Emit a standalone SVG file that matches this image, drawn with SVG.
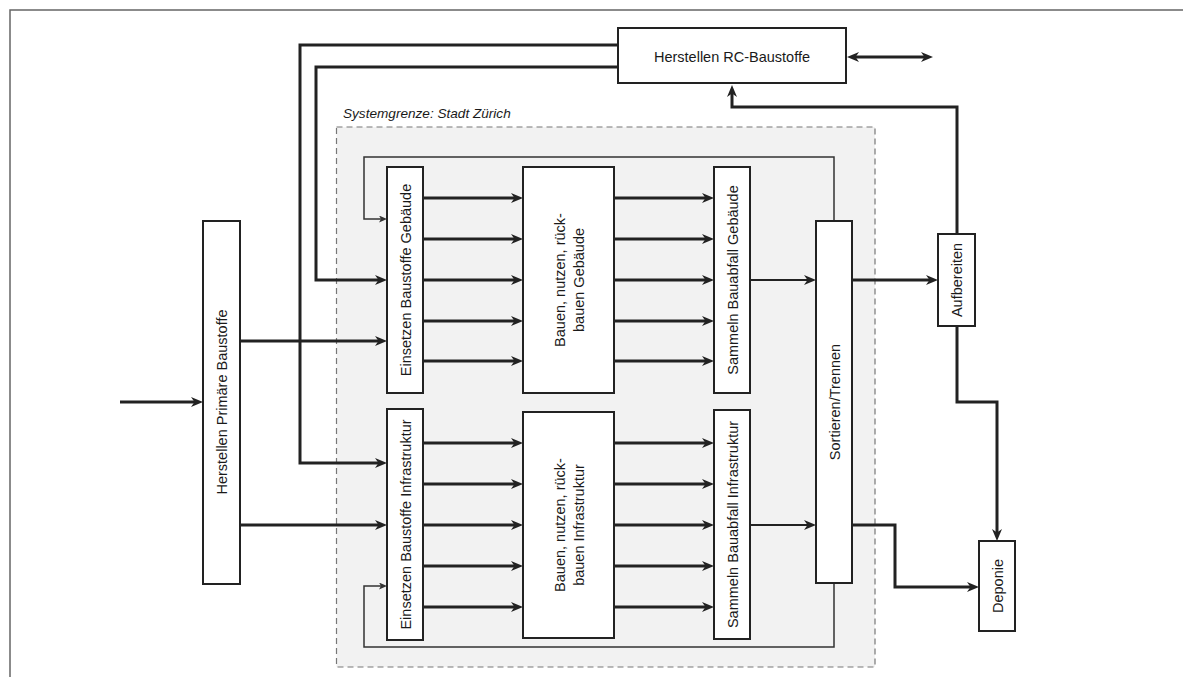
<svg xmlns="http://www.w3.org/2000/svg" width="1183" height="677" viewBox="0 0 1183 677">
<style>
.box{fill:#fff;stroke:#222;stroke-width:2}
.t{font-family:"Liberation Sans",Arial,sans-serif;font-size:14.5px;fill:#1a1a1a;text-anchor:middle}
.thick{fill:none;stroke:#222;stroke-width:3;marker-end:url(#ah)}
.mid{fill:none;stroke:#222;stroke-width:2;marker-end:url(#ah)}
.thin{fill:none;stroke:#333;stroke-width:1.5;marker-end:url(#ahs)}
</style>
<defs>
<marker id="ah" markerUnits="userSpaceOnUse" markerWidth="13" markerHeight="10" refX="4" refY="5" orient="auto-start-reverse">
<path d="M0,0 L12,5 L0,10 L3.5,5 z" fill="#222"/>
</marker>
<marker id="ahs" markerUnits="userSpaceOnUse" markerWidth="9" markerHeight="7" refX="3" refY="3.5" orient="auto">
<path d="M0,0 L8,3.5 L0,7 L2,3.5 z" fill="#333"/>
</marker>
</defs>
<rect width="1183" height="677" fill="#fff"/>
<path d="M10,677 V10 H1183" fill="none" stroke="#666" stroke-width="1.5"/>
<g id="systemgrenze">
<rect x="336.5" y="127" width="538.5" height="540" fill="#f2f2f2" stroke="#777" stroke-width="1.2" stroke-dasharray="6,4"/>
<text x="343" y="118" font-family="Liberation Sans,Arial,sans-serif" font-size="13.6" font-style="italic" fill="#1a1a1a">Systemgrenze: Stadt Zürich</text>
</g>
<g id="connectors">
<path class="thick" d="M618,45 H300 V463 H379"/>
<path class="thick" d="M618,67 H316 V280 H379"/>
<path class="thick" d="M240,341 H379"/>
<path class="thick" d="M240,525 H379"/>
<path class="thick" d="M120,402 H195"/>
<path class="thick" d="M423,198 H515"/>
<path class="thick" d="M423,239 H515"/>
<path class="thick" d="M423,280 H515"/>
<path class="thick" d="M423,321 H515"/>
<path class="thick" d="M423,361 H515"/>
<path class="thick" d="M614,198 H706"/>
<path class="thick" d="M614,239 H706"/>
<path class="thick" d="M614,280 H706"/>
<path class="thick" d="M614,321 H706"/>
<path class="thick" d="M614,361 H706"/>
<path class="thick" d="M423,443 H515"/>
<path class="thick" d="M423,484 H515"/>
<path class="thick" d="M423,525 H515"/>
<path class="thick" d="M423,566 H515"/>
<path class="thick" d="M423,607 H515"/>
<path class="thick" d="M614,443 H706"/>
<path class="thick" d="M614,484 H706"/>
<path class="thick" d="M614,525 H706"/>
<path class="thick" d="M614,566 H706"/>
<path class="thick" d="M614,607 H706"/>
<path class="mid" d="M750,280 H808"/>
<path class="mid" d="M750,525 H808"/>
<path class="thick" d="M852,280 H930"/>
<path class="thick" d="M852,525 H895 V587 H971"/>
<path class="thick" d="M957,326 V402 H997 V533"/>
<path class="thick" d="M957,234 V107 H732 V93"/>
<path class="thick" d="M855,57 H925" style="marker-start:url(#ah)"/>
<path class="thin" d="M834,221 V157 H364 V219 H382"/>
<path class="thin" d="M834,583 V647 H364 V586 H382"/>
</g>
<g id="rc">
<rect class="box" x="618" y="28" width="228" height="55"/>
<text class="t" x="732" y="62">Herstellen RC-Baustoffe</text>
</g>
<g id="primaer">
<rect class="box" x="203" y="221" width="37" height="363"/>
<text class="t" transform="translate(227,402) rotate(-90)">Herstellen Primäre Baustoffe</text>
</g>
<g id="einsetzen-gebaeude">
<rect class="box" x="387" y="167" width="36" height="226"/>
<text class="t" transform="translate(410.5,280) rotate(-90)">Einsetzen Baustoffe Gebäude</text>
</g>
<g id="bauen-gebaeude">
<rect class="box" x="523" y="167" width="91" height="226"/>
<text class="t" transform="translate(565,280) rotate(-90)">Bauen, nutzen, rück-</text>
<text class="t" transform="translate(584,280) rotate(-90)">bauen Gebäude</text>
</g>
<g id="sammeln-gebaeude">
<rect class="box" x="714" y="167" width="36" height="226"/>
<text class="t" transform="translate(737.5,280) rotate(-90)">Sammeln Bauabfall Gebäude</text>
</g>
<g id="einsetzen-infra">
<rect class="box" x="387" y="409" width="36" height="231"/>
<text class="t" transform="translate(410.5,524.5) rotate(-90)">Einsetzen Baustoffe Infrastruktur</text>
</g>
<g id="bauen-infra">
<rect class="box" x="523" y="412" width="91" height="226"/>
<text class="t" transform="translate(565,525) rotate(-90)">Bauen, nutzen, rück-</text>
<text class="t" transform="translate(584,525) rotate(-90)">bauen Infrastruktur</text>
</g>
<g id="sammeln-infra">
<rect class="box" x="714" y="410" width="36" height="229"/>
<text class="t" transform="translate(737.5,524.5) rotate(-90)">Sammeln Bauabfall Infrastruktur</text>
</g>
<g id="sortieren">
<rect class="box" x="816" y="221" width="36" height="362"/>
<text class="t" transform="translate(839.5,402) rotate(-90)">Sortieren/Trennen</text>
</g>
<g id="aufbereiten">
<rect class="box" x="938" y="234" width="37" height="92"/>
<text class="t" transform="translate(961.5,280) rotate(-90)">Aufbereiten</text>
</g>
<g id="deponie">
<rect class="box" x="979" y="541" width="36" height="90"/>
<text class="t" transform="translate(1002.5,586) rotate(-90)">Deponie</text>
</g>
</svg>
